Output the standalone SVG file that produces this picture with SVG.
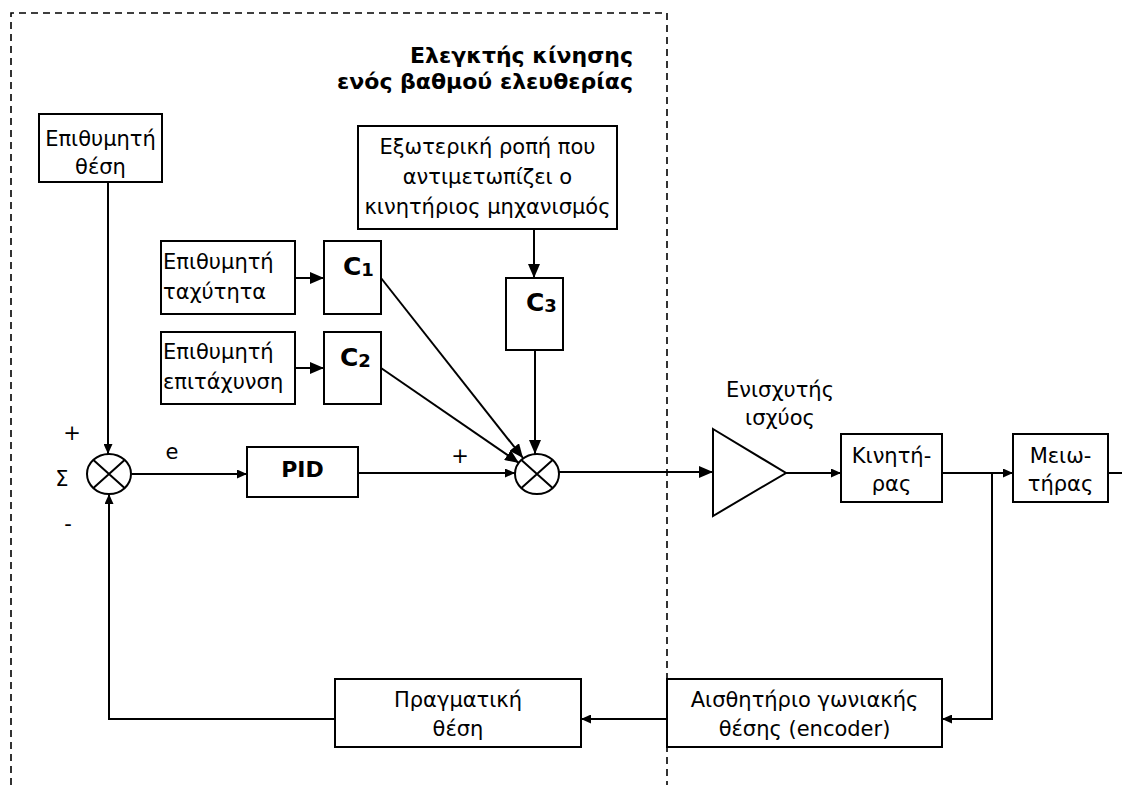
<svg xmlns="http://www.w3.org/2000/svg" width="1122" height="785" viewBox="0 0 1122 785">
<style>
.box{fill:#fff;stroke:#000;stroke-width:2}
.t{font-family:"DejaVu Sans","Liberation Sans",sans-serif;font-size:21px;fill:#000}
.c{text-anchor:middle}
.b{font-weight:bold}
.ttl{font-size:22px}
.cl{font-size:25px}
.sub{font-size:18px}
.pid{font-size:22px}
.ln{fill:none;stroke:#000;stroke-width:2}
.big{marker-end:url(#big)}
.med{marker-end:url(#med)}
</style>
<defs>
<marker id="big" markerUnits="userSpaceOnUse" markerWidth="14" markerHeight="12" refX="14" refY="6" orient="auto"><path d="M0,0 L14,6 L0,12 z" fill="#000"/></marker>
<marker id="med" markerUnits="userSpaceOnUse" markerWidth="10" markerHeight="9" refX="10" refY="4.5" orient="auto"><path d="M0,0 L10,4.5 L0,9 z" fill="#000"/></marker>
</defs>
<rect width="1122" height="785" fill="#fff"/>
<path d="M11,785 V13 H667 V785" fill="none" stroke="#000" stroke-width="1.6" stroke-dasharray="7 5"/>
<g id="title">
<text class="t b ttl" x="633" y="63" text-anchor="end">Ελεγκτής κίνησης</text>
<text class="t b ttl" x="633" y="89" text-anchor="end">ενός βαθμού ελευθερίας</text>
</g>
<g id="connectors">
<path class="ln med" d="M108,182 V454"/>
<path class="ln med" d="M131.5,474 H247"/>
<path class="ln med" d="M358,473 H515"/>
<path class="ln big" d="M559,472 H713"/>
<path class="ln big" d="M381,278 L523,458"/>
<path class="ln big" d="M381,368 L519,463"/>
<path class="ln big" d="M534,229 V278"/>
<path class="ln big" d="M535,350 V454"/>
<path class="ln big" d="M295,278 H324"/>
<path class="ln big" d="M295,368 H324"/>
<path class="ln med" d="M786,473 H841"/>
<path class="ln med" d="M942,473 H1013"/>
<path class="ln" d="M1108,473 H1122"/>
<path class="ln med" d="M992,473 V719 H942"/>
<path class="ln med" d="M667,719 H581"/>
<path class="ln med" d="M335,719 H109 V494"/>
</g>
<g id="sum1">
<ellipse cx="109" cy="474" rx="22" ry="20" fill="#fff" stroke="#000" stroke-width="2"/>
<path class="ln" d="M93.4,459.9 L124.6,488.1 M124.6,459.9 L93.4,488.1"/>
<text class="t c" x="72" y="440">+</text>
<text class="t c" x="62" y="486">Σ</text>
<text class="t c" x="68" y="531">-</text>
<text class="t c" x="172" y="459">e</text>
</g>
<g id="sum2">
<ellipse cx="537" cy="474" rx="22" ry="20" fill="#fff" stroke="#000" stroke-width="2"/>
<path class="ln" d="M521.4,459.9 L552.6,488.1 M552.6,459.9 L521.4,488.1"/>
<text class="t c" x="460" y="463">+</text>
</g>
<g id="desired-position">
<rect class="box" x="39" y="114" width="123" height="68"/>
<text class="t c" x="100.5" y="146">Επιθυμητή</text>
<text class="t c" x="100.5" y="174">θέση</text>
</g>
<g id="desired-velocity">
<rect class="box" x="161" y="241" width="134" height="73"/>
<text class="t" x="163" y="269">Επιθυμητή</text>
<text class="t" x="163" y="299">ταχύτητα</text>
</g>
<g id="c1">
<rect class="box" x="324" y="241" width="57" height="73"/>
<text class="t b cl" x="343" y="275">C<tspan class="sub" dy="1">1</tspan></text>
</g>
<g id="desired-acceleration">
<rect class="box" x="161" y="332" width="134" height="72"/>
<text class="t" x="163" y="359">Επιθυμητή</text>
<text class="t" x="163" y="389">επιτάχυνση</text>
</g>
<g id="c2">
<rect class="box" x="324" y="332" width="57" height="72"/>
<text class="t b cl" x="340" y="366">C<tspan class="sub" dy="1">2</tspan></text>
</g>
<g id="external-torque">
<rect class="box" x="358" y="126" width="259" height="103"/>
<text class="t c" x="487.5" y="154">Εξωτερική ροπή που</text>
<text class="t c" x="487.5" y="184">αντιμετωπίζει ο</text>
<text class="t c" x="487.5" y="214">κινητήριος μηχανισμός</text>
</g>
<g id="c3">
<rect class="box" x="506" y="278" width="57" height="72"/>
<text class="t b cl" x="526" y="311">C<tspan class="sub" dy="1">3</tspan></text>
</g>
<g id="pid">
<rect class="box" x="247" y="447" width="111" height="50"/>
<text class="t c b pid" x="302.5" y="477">PID</text>
</g>
<g id="amplifier">
<path d="M713,429 L786,473 L713,516 z" fill="#fff" stroke="#000" stroke-width="2"/>
<text class="t c" x="780" y="397">Ενισχυτής</text>
<text class="t c" x="780" y="425">ισχύος</text>
</g>
<g id="motor">
<rect class="box" x="841" y="434" width="101" height="68"/>
<text class="t c" x="891.5" y="463">Κινητή-</text>
<text class="t c" x="891.5" y="491">ρας</text>
</g>
<g id="reducer">
<rect class="box" x="1013" y="434" width="95" height="68"/>
<text class="t c" x="1060.5" y="463">Μειω-</text>
<text class="t c" x="1060.5" y="491">τήρας</text>
</g>
<g id="encoder">
<rect class="box" x="667" y="679" width="275" height="68"/>
<text class="t c" x="804.5" y="707">Αισθητήριο γωνιακής</text>
<text class="t c" x="804.5" y="736">θέσης (encoder)</text>
</g>
<g id="actual-position">
<rect class="box" x="335" y="679" width="246" height="68"/>
<text class="t c" x="458" y="707">Πραγματική</text>
<text class="t c" x="458" y="736">θέση</text>
</g>
</svg>
